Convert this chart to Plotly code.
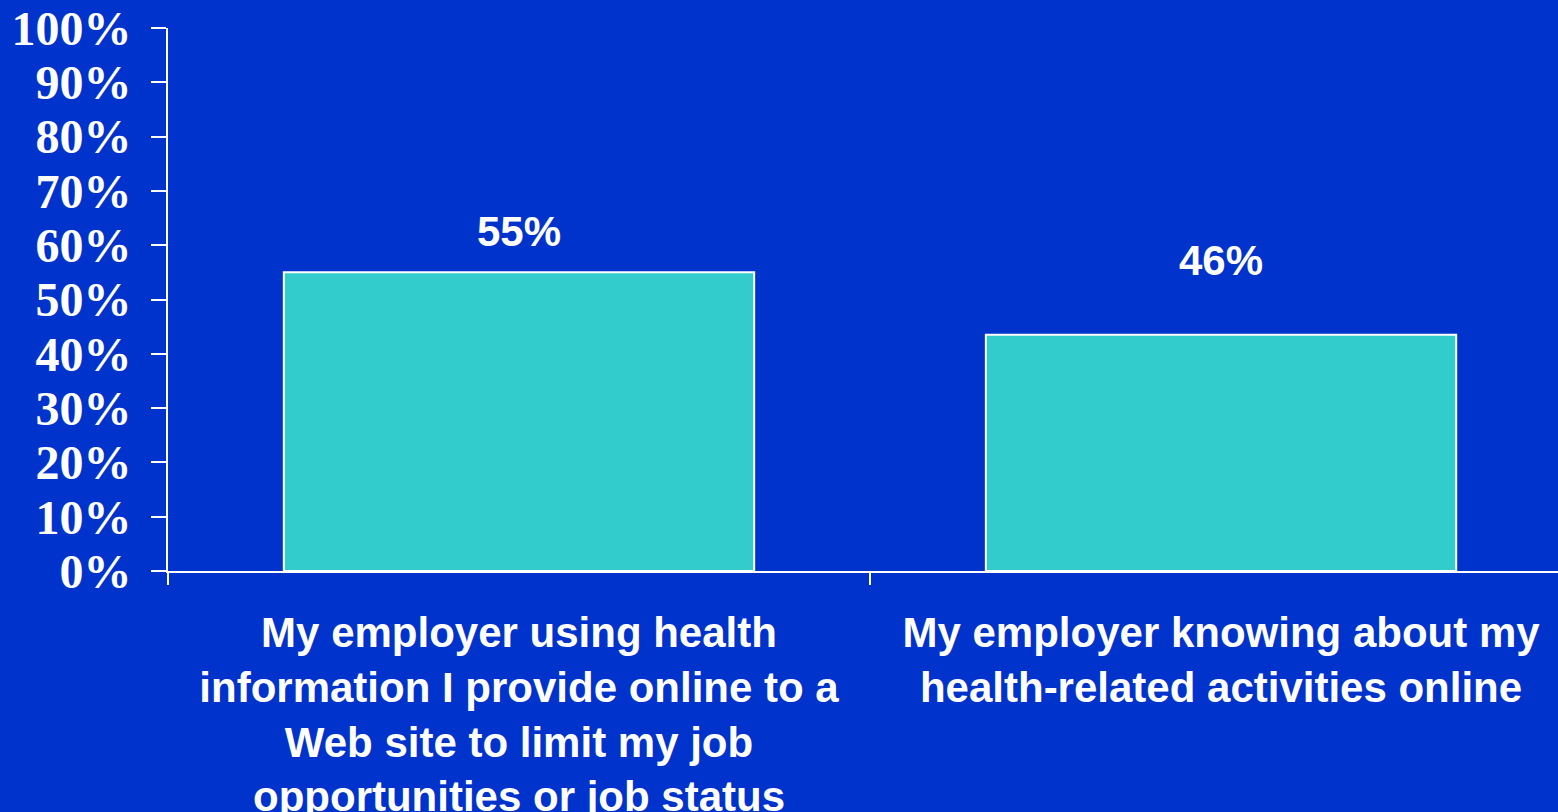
import plotly.graph_objects as go

categories = [
    "My employer using health<br>information I provide online to a<br>Web site to limit my job<br>opportunities or job status",
    "My employer knowing about my<br>health-related activities online",
]
values = [55, 43.5]
value_labels = ["55%", "46%"]
label_shift = [15, 49]

BG = "#0033CC"
BAR = "#33CCCC"

fig = go.Figure()
fig.add_trace(go.Bar(
    x=categories, y=values, width=0.67,
    marker=dict(color=BAR, line=dict(color="white", width=2)),
    hoverinfo="skip",
))

for c, v, t, s in zip(categories, values, value_labels, label_shift):
    fig.add_annotation(x=c, y=v, text=t, showarrow=False, yanchor="bottom",
                       yshift=s, font=dict(family="Liberation Sans", size=42,
                                           color="white", weight="bold"))

fig.update_layout(
    width=1558, height=812,
    paper_bgcolor=BG, plot_bgcolor=BG,
    margin=dict(l=168, r=0, t=28, b=241),
    showlegend=False,
    bargap=0.33,
)
fig.update_xaxes(
    range=[-0.5, 1.48], tickson="boundaries", ticks="outside", ticklen=12,
    tickwidth=2, tickcolor="white", showline=True, linecolor="white",
    linewidth=2, showgrid=False, automargin=False,
    tickfont=dict(family="Liberation Sans", size=42, color="white", weight="bold"),
    ticklabelstandoff=24,
)
fig.update_yaxes(
    range=[0, 100], dtick=10, ticksuffix="%", ticks="outside", ticklen=15,
    tickwidth=2, tickcolor="white", showline=True, linecolor="white",
    linewidth=2, showgrid=False, zeroline=False, automargin=False,
    tickfont=dict(family="Liberation Serif", size=48, color="white", weight="bold"),
    ticklabelstandoff=10,
)

fig.write_html("out.html")
